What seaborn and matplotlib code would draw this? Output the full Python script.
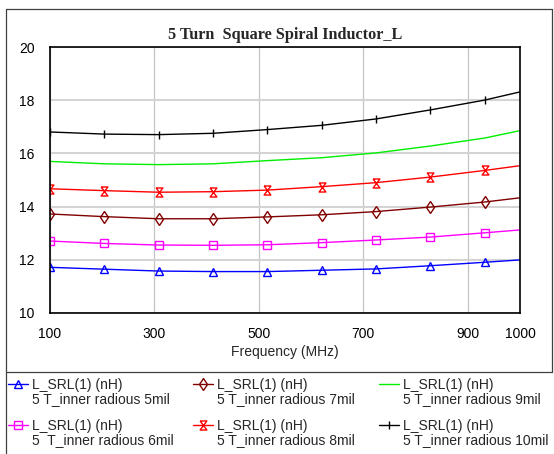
import seaborn as sns
import matplotlib.pyplot as plt
from matplotlib.lines import Line2D

# frequency points (MHz) and inductance L (nH)
freq = [100, 204, 308, 412, 516, 620, 724, 828, 932, 1000]
l_5mil = [11.71, 11.64, 11.57, 11.55, 11.55, 11.60, 11.65, 11.77, 11.90, 11.99]
l_6mil = [12.70, 12.61, 12.55, 12.54, 12.56, 12.64, 12.74, 12.85, 13.01, 13.12]
l_7mil = [13.72, 13.62, 13.54, 13.54, 13.61, 13.69, 13.81, 13.98, 14.17, 14.33]
l_8mil = [14.67, 14.60, 14.54, 14.56, 14.62, 14.75, 14.90, 15.11, 15.36, 15.54]
l_9mil = [15.70, 15.61, 15.58, 15.61, 15.73, 15.84, 16.02, 16.28, 16.58, 16.86]
l_10mil = [16.81, 16.73, 16.71, 16.76, 16.90, 17.06, 17.30, 17.64, 18.01, 18.32]

series_name = "L_SRL(1) (nH)"
series_desc = ["5 T_inner radious 5mil", "5  T_inner radious 6mil",
               "5 T_inner radious 7mil", "5 T_inner radious 8mil",
               "5 T_inner radious 9mil", "5 T_inner radious 10mil"]
x_ticks = [100, 300, 500, 700, 900, 1000]
y_ticks = [10, 12, 14, 16, 18, 20]

hourglass = [(-0.75, 1), (0.75, 1), (-0.75, -1), (0.75, -1), (-0.75, 1)]
styles = [
    dict(color="#0000ff", marker="^", markersize=6),
    dict(color="#ff00ff", marker="s", markersize=6.2),
    dict(color="#800000", marker="d", markersize=6),
    dict(color="#ff0000", marker=hourglass, markersize=6.5),
    dict(color="#00ee00", marker=None, markersize=0),
    dict(color="#000000", marker="|", markersize=6),
]

sns.set_style("white")
plt.rcParams['font.family'] = ['Liberation Sans', 'DejaVu Sans']

fig = plt.figure(figsize=(5.54, 4.54), dpi=100)
ax = fig.add_axes([0.0903, 0.3112, 0.8484, 0.5846])

all_vals = [l_5mil, l_6mil, l_7mil, l_8mil, l_9mil, l_10mil]
for vals, st in zip(all_vals, styles):
    sns.lineplot(x=freq, y=vals, ax=ax, color=st["color"], linewidth=1.0,
                 marker=st["marker"], markersize=st["markersize"],
                 markerfacecolor="none", markeredgecolor=st["color"],
                 markeredgewidth=1.0, markevery=slice(0, 9),
                 label=series_name, clip_on=True)

ax.set_xlim(100, 1000)
ax.set_ylim(10, 20)
ax.set_xticks(x_ticks)
ax.set_yticks(y_ticks)
ax.tick_params(axis="both", length=0, labelsize=10, colors="black")
ax.tick_params(axis="x", pad=10)
ax.tick_params(axis="y", pad=11)
ax.yaxis.grid(True, color="#d4d4d4", linewidth=1.5)
ax.xaxis.grid(True, color="#c4c4c4", linewidth=0.9)
ax.set_axisbelow(True)
for sp in ax.spines.values():
    sp.set_color("black")
    sp.set_linewidth(1.2)

ax.set_xlabel("Frequency (MHz)", fontsize=10, labelpad=3)
ax.set_ylabel("")
ax.set_title("5 Turn  Square Spiral Inductor_L", fontsize=11.7, fontweight="bold",
             family=["Liberation Serif", "DejaVu Serif"], pad=6)

ax.get_legend().remove()
handles, labels = ax.get_legend_handles_labels()
leg = fig.legend(handles, labels, loc="upper left", bbox_to_anchor=(0.0144, 0.167),
                 ncol=3, frameon=False, fontsize=10, handlelength=1.44,
                 handletextpad=0.29, columnspacing=5.1, labelspacing=1.95,
                 borderpad=0, borderaxespad=0)

# second line of every legend entry sits under the first one
fig.canvas.draw()
inv = fig.transFigure.inverted()
for t, desc in zip(leg.get_texts(), series_desc):
    bx, by = t.get_transform().transform(t.get_position())
    fx, fy = inv.transform((bx, by - 14))
    fig.text(fx, fy, desc, fontsize=10, ha="left", va="baseline")

# outer frame of the chart and legend box
frame = dict(transform=fig.transFigure, color="#404040", linewidth=0.9)
left, right, top, mid = 0.0103, 0.9969, 0.9795, 0.1813
fig.add_artist(Line2D([left, right], [top, top], **frame))
fig.add_artist(Line2D([right, right], [top, mid], **frame))
fig.add_artist(Line2D([left, right], [mid, mid], **frame))
fig.add_artist(Line2D([left, left], [top, 0], **frame))

fig.savefig("out.png", dpi=100)
